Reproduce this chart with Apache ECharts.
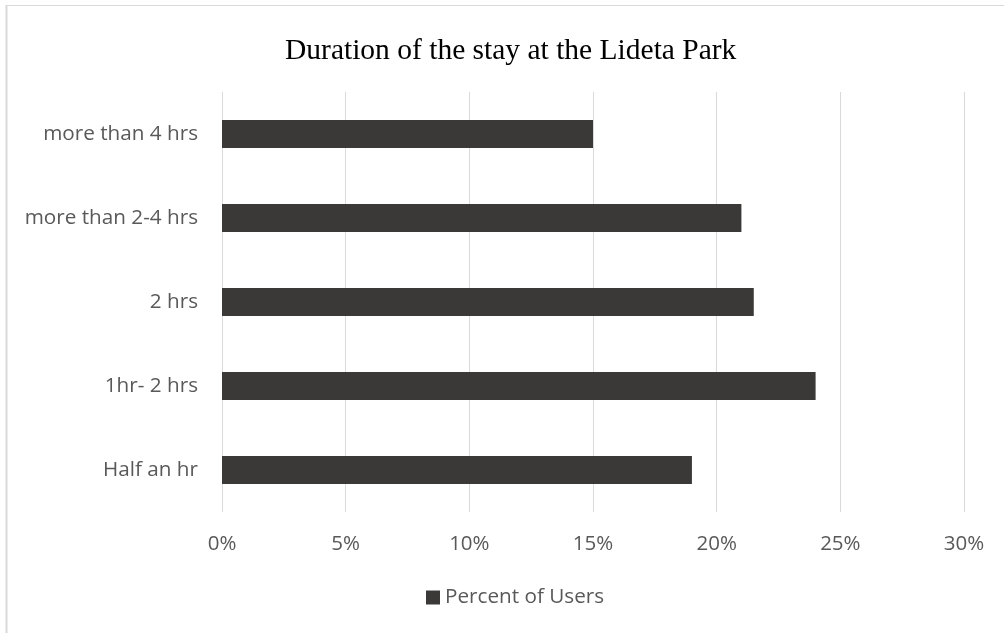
<!DOCTYPE html>
<html>
<head>
<meta charset="utf-8">
<script src="https://cdn.jsdelivr.net/npm/echarts@6/dist/echarts.min.js"></script>
<style>html,body{margin:0;padding:0;background:#fff}#c{width:1004px;height:633px}</style>
</head>
<body>
<div id="c"></div>
<script>
const categories = ["Half an hr", "1hr- 2 hrs", "2 hrs", "more than 2-4 hrs", "more than 4 hrs"];
const percentOfUsers = [19, 24, 21.5, 21, 15];
const seriesName = "Percent of Users";
const titleText = "Duration of the stay at the Lideta Park";

const chart = echarts.init(document.getElementById('c'));
chart.setOption({
  animation: false,
  backgroundColor: '#fff',
  title: {
    text: titleText, left: 280, top: 31,
    textStyle: {fontFamily: 'Liberation Serif', fontWeight: 'normal', fontSize: 29.5, color: '#000'}
  },
  legend: {
    data: [seriesName], top: 582, left: 421,
    icon: 'rect', itemWidth: 14, itemHeight: 14, itemGap: 5,
    textStyle: {fontFamily: 'Open Sans', fontSize: 20.7, color: '#595959'}
  },
  grid: {left: 222, right: 40, top: 92, bottom: 121},
  xAxis: {
    type: 'value', min: 0, max: 30, interval: 5,
    axisLabel: {formatter: '{value}%', fontFamily: 'Open Sans', fontSize: 20.5, color: '#595959', margin: 22},
    axisLine: {show: false}, axisTick: {show: false},
    splitLine: {lineStyle: {color: '#d9d9d9', width: 1}}
  },
  yAxis: {
    type: 'category', data: categories,
    axisLabel: {fontFamily: 'Open Sans', fontSize: 20.7, color: '#595959', margin: 24},
    axisLine: {show: false}, axisTick: {show: false}
  },
  series: [{
    name: seriesName, type: 'bar', data: percentOfUsers,
    barWidth: 28, itemStyle: {color: '#3b3838'}
  }],
  graphic: [
    {type: 'line', shape: {x1: 6.5, y1: 5, x2: 6.5, y2: 633}, style: {stroke: '#d9d9d9', lineWidth: 2}},
    {type: 'line', shape: {x1: 6, y1: 5.5, x2: 1004, y2: 5.5}, style: {stroke: '#d9d9d9', lineWidth: 1}}
  ]
});
</script>
</body>
</html>
